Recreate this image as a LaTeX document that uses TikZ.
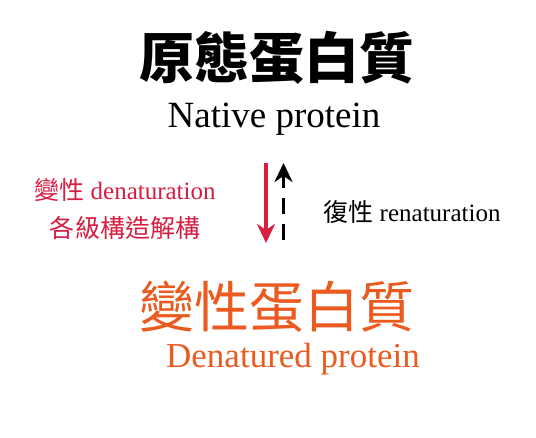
\documentclass[tikz,border=0pt]{standalone}
\usepackage{fontspec}
\setmainfont{Liberation Serif}
\newfontfamily\cjk{Noto Sans CJK TC}
\usetikzlibrary{arrows.meta}
\definecolor{denred}{RGB}{215,30,65}
\definecolor{denorange}{RGB}{235,90,30}
\tikzset{
  txt/.style={inner sep=0pt, outer sep=0pt},
  arrowline/.style={line width=3.8bp, -{Stealth[length=19bp,width=18bp,inset=6bp]}},
}
\begin{document}
\begin{tikzpicture}[x=1bp,y=1bp]
\useasboundingbox[fill=white] (0,0) rectangle (536,438);
\node[txt] (title) at (277,380) {\cjk\bfseries\fontsize{55bp}{60bp}\selectfont 原態蛋白質};
\node[txt,anchor=base] (native) at (274,310) {\fontsize{37bp}{40bp}\selectfont Native protein};
\node[txt,text=denred] (denat) at (125,248) {\fontsize{25bp}{28bp}\selectfont{\cjk 變性} denaturation};
\node[txt,text=denred] (levels) at (125,210) {\cjk\fontsize{25bp}{28bp}\selectfont 各級構造解構};
\node[txt] (renat) at (412,226) {\fontsize{25bp}{28bp}\selectfont{\cjk 復性} renaturation};
\node[txt,text=denorange] (dtitle) at (277,131) {\cjk\fontsize{55bp}{60bp}\selectfont 變性蛋白質};
\node[txt,anchor=base,text=denorange] (dnative) at (293,70) {\fontsize{35bp}{38bp}\selectfont Denatured protein};
\coordinate (a1) at (266,275);
\coordinate (a2) at (266,195);
\coordinate (b1) at (283.5,198);
\coordinate (b2) at (283.5,275);
\draw[arrowline,denred] (a1) -- (a2);
\draw[arrowline,black,dash pattern=on 16bp off 10bp] (b1) -- (b2);
\end{tikzpicture}
\end{document}
